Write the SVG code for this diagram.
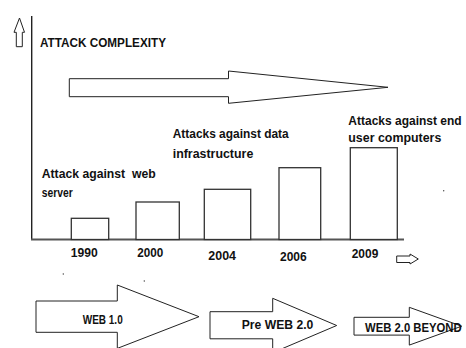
<svg xmlns="http://www.w3.org/2000/svg" width="466" height="348" viewBox="0 0 466 348">
  <style>
    .lbl { font-family: "Liberation Sans", Arial, sans-serif; font-weight: bold; fill: #111; }
    .axis { stroke: #222; stroke-width: 1.4; fill: none; }
    .xaxis { stroke: #555; stroke-width: 2; fill: none; }
    .bar { fill: #fff; stroke: #333; stroke-width: 1.3; }
    .arrow { fill: #fff; stroke: #222; stroke-width: 1; stroke-linejoin: miter; }
    .speck { fill: #444; }
  </style>
  <rect width="466" height="348" fill="#fff"/>

  <!-- axes and direction hints -->
  <g id="connectors">
    <line class="axis" x1="31.7" y1="16" x2="31.7" y2="240"/>
    <line class="xaxis" x1="31" y1="239.5" x2="404" y2="239.5"/>
    <path class="arrow" d="M16.3,46.7 V32.3 H14 L19.5,18 L24.5,32.3 H22.3 V46.7 Z"/>
    <path class="arrow" d="M396.7,256 H410 V254 L418.3,259 L410,264 V262.5 H396.7 Z"/>
    <path class="arrow" d="M69.3,78.7 H228.5 V71 L388,87.3 L228.5,103.3 V96.7 H69.3 Z"/>
  </g>

  <g id="title">
    <text class="lbl" x="40" y="47" font-size="12.5" textLength="126" lengthAdjust="spacingAndGlyphs">ATTACK COMPLEXITY</text>
  </g>

  <!-- bars per year -->
  <g id="bar-1990">
    <rect class="bar" x="71.3" y="218.3" width="37.4" height="21.2"/>
    <text class="lbl" x="70.7" y="257.3" font-size="12.5" textLength="27" lengthAdjust="spacingAndGlyphs">1990</text>
  </g>
  <g id="bar-2000">
    <rect class="bar" x="136" y="202" width="43.3" height="37.5"/>
    <text class="lbl" x="137.3" y="256.7" font-size="12.5" textLength="26" lengthAdjust="spacingAndGlyphs">2000</text>
  </g>
  <g id="bar-2004">
    <rect class="bar" x="204.3" y="189.3" width="46.4" height="50.2"/>
    <text class="lbl" x="208.3" y="260" font-size="12.5" textLength="27.7" lengthAdjust="spacingAndGlyphs">2004</text>
  </g>
  <g id="bar-2006">
    <rect class="bar" x="279" y="167.7" width="41.7" height="71.8"/>
    <text class="lbl" x="280" y="261" font-size="12.5" textLength="26.7" lengthAdjust="spacingAndGlyphs">2006</text>
  </g>
  <g id="bar-2009">
    <rect class="bar" x="350.3" y="147.7" width="47" height="91.8"/>
    <text class="lbl" x="351.7" y="258.3" font-size="12.5" textLength="26.6" lengthAdjust="spacingAndGlyphs">2009</text>
  </g>

  <!-- era captions -->
  <g id="note-web-server">
    <text class="lbl" x="41.7" y="178.3" font-size="13.5" textLength="114" lengthAdjust="spacingAndGlyphs" xml:space="preserve">Attack against  web</text>
    <text class="lbl" x="41.7" y="196.7" font-size="13.5" textLength="31" lengthAdjust="spacingAndGlyphs">server</text>
  </g>
  <g id="note-data-infra">
    <text class="lbl" x="172.7" y="137.7" font-size="13.5" textLength="116" lengthAdjust="spacingAndGlyphs">Attacks against data</text>
    <text class="lbl" x="172.7" y="157.7" font-size="13.5" textLength="80.6" lengthAdjust="spacingAndGlyphs">infrastructure</text>
  </g>
  <g id="note-end-user">
    <text class="lbl" x="348.3" y="125" font-size="13.5" textLength="113.4" lengthAdjust="spacingAndGlyphs">Attacks against end</text>
    <text class="lbl" x="348.3" y="142.3" font-size="13.5" textLength="93" lengthAdjust="spacingAndGlyphs">user computers</text>
  </g>

  <!-- web generations -->
  <g id="web-1">
    <path class="arrow" d="M36,301 H117.3 V285 L199,316.7 L117.3,348.4 V332.3 H36 Z"/>
    <text class="lbl" x="82.7" y="324" font-size="12.5" textLength="40" lengthAdjust="spacingAndGlyphs">WEB 1.0</text>
  </g>
  <g id="web-pre2">
    <path class="arrow" d="M210,311.7 H272.7 V298.3 L336.7,325.5 L272.7,352.7 V338.8 H210 Z"/>
    <text class="lbl" x="241.7" y="329" font-size="12.5" textLength="71.6" lengthAdjust="spacingAndGlyphs">Pre WEB 2.0</text>
  </g>
  <g id="web-2-beyond">
    <path class="arrow" d="M354,317.3 H409.3 V307.3 L461.7,326.2 L409.3,345.1 V335.1 H354 Z"/>
    <text class="lbl" x="365" y="331.7" font-size="12.5" textLength="96.7" lengthAdjust="spacingAndGlyphs">WEB 2.0 BEYOND</text>
  </g>

  <!-- stray marks -->
  <circle class="speck" cx="63.3" cy="274" r="0.7"/>
  <circle class="speck" cx="144.3" cy="281" r="0.7"/>
  <circle class="speck" cx="443.7" cy="190.7" r="0.7"/>
</svg>
